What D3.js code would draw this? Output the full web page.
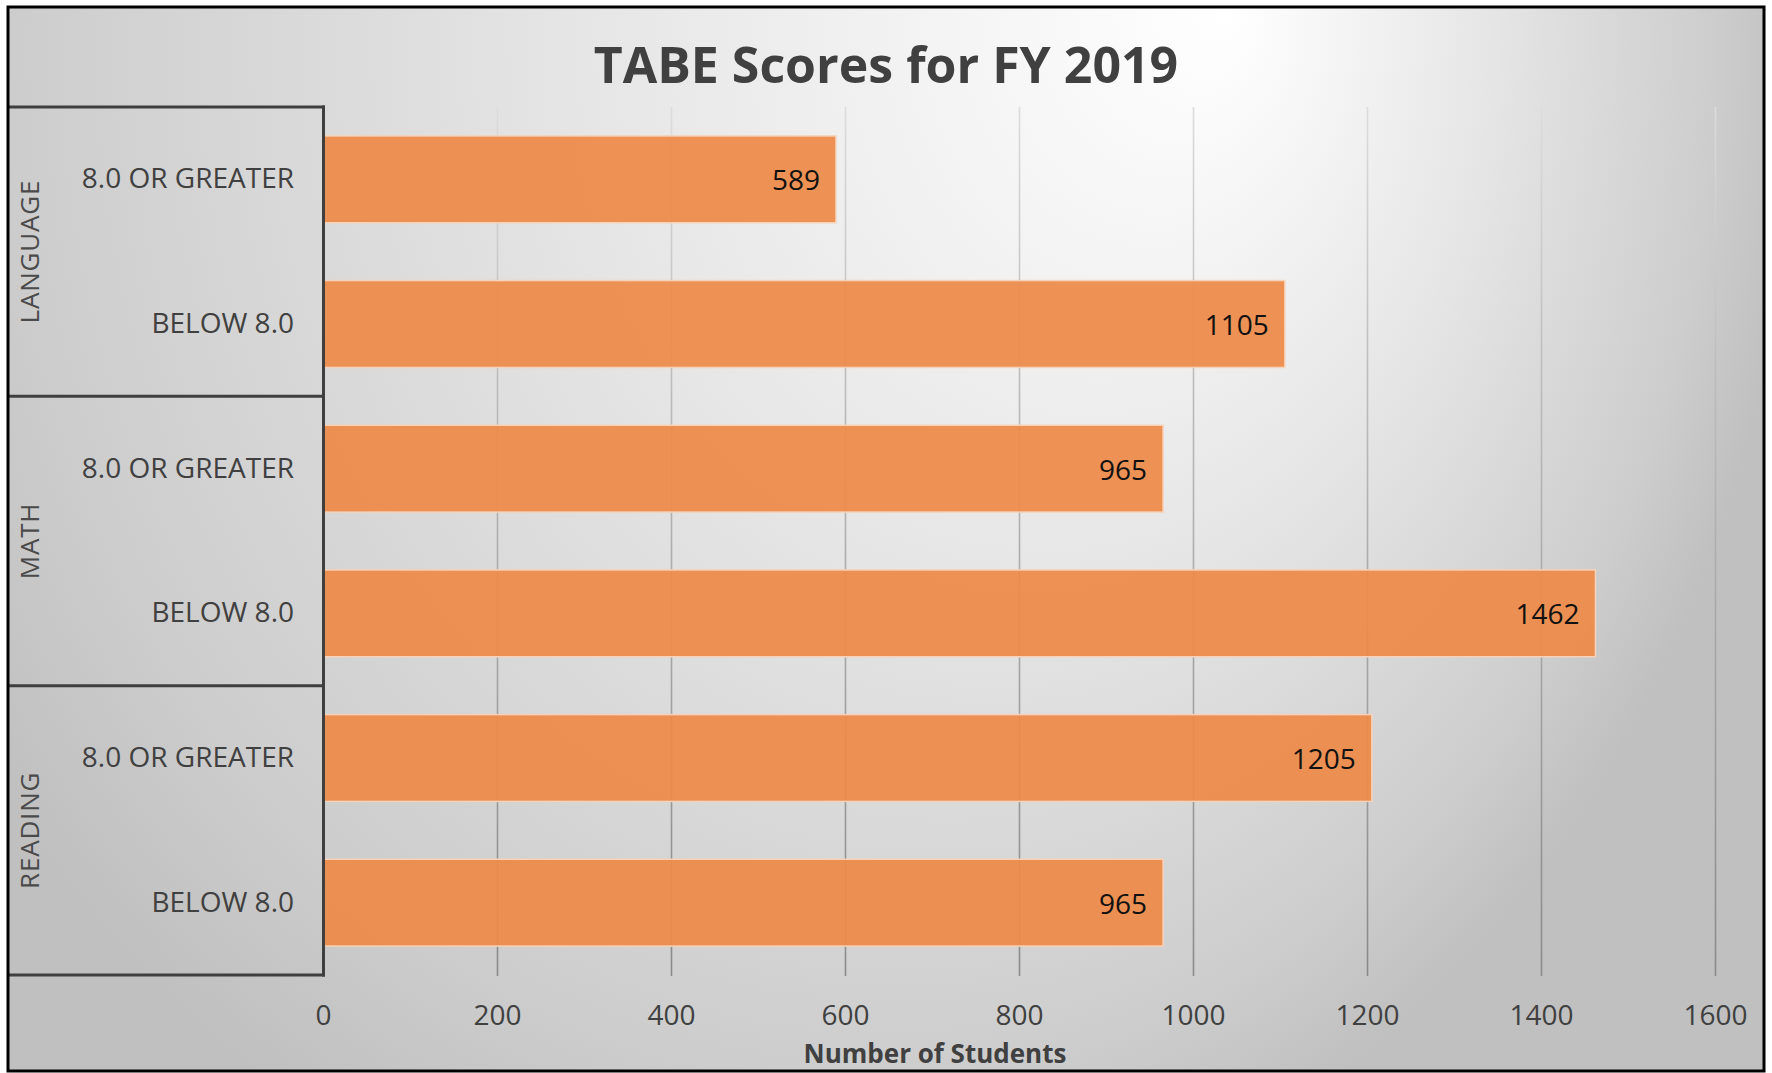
<!DOCTYPE html>
<html>
<head>
<meta charset="utf-8">
<style>
  body { margin: 0; background: #fff; }
  text { font-family: "Open Sans", sans-serif; }
</style>
</head>
<body>
<div id="chart"></div>
<script src="https://d3js.org/d3.v7.min.js"></script>
<script>
// data
var groups = ["LANGUAGE", "MATH", "READING"];
var levels = ["8.0 OR GREATER", "BELOW 8.0"];
var values = [589, 1105, 965, 1462, 1205, 965];
var xTicks = [0, 200, 400, 600, 800, 1000, 1200, 1400, 1600];

var rows = [];
groups.forEach(function(g, gi) {
  levels.forEach(function(l, li) {
    rows.push({ key: g + "|" + l, group: g, level: l, value: values[gi * levels.length + li] });
  });
});

var W = 1772, H = 1073;
var frame = { left: 8, top: 7, right: 1764, bottom: 1071 };
var plot = { left: 323.5, right: 1715.5, top: 107, bottom: 976 };

var svg = d3.select("#chart").append("svg")
    .attr("width", W)
    .attr("height", H);

var defs = svg.append("defs");

// light spot near the top right of centre, grey towards the edges
var bg = defs.append("radialGradient")
    .attr("id", "bg")
    .attr("gradientUnits", "userSpaceOnUse")
    .attr("cx", 800).attr("cy", 60).attr("r", 1000)
    .attr("fx", 1230).attr("fy", 20)
    .attr("gradientTransform", "translate(0,60) scale(1,1.2) translate(0,-60)");
bg.append("stop").attr("offset", 0).attr("stop-color", "#ffffff");
bg.append("stop").attr("offset", 0.45).attr("stop-color", "#e6e6e6");
bg.append("stop").attr("offset", 0.85).attr("stop-color", "#cdcdcd");
bg.append("stop").attr("offset", 1).attr("stop-color", "#c0c0c0");

var gridGrad = defs.append("linearGradient")
    .attr("id", "gridGrad")
    .attr("gradientUnits", "userSpaceOnUse")
    .attr("x1", 0).attr("y1", plot.top)
    .attr("x2", 0).attr("y2", plot.bottom);
gridGrad.append("stop").attr("offset", 0).attr("stop-color", "#dcdcdc");
gridGrad.append("stop").attr("offset", 0.3).attr("stop-color", "#bdbdbd");
gridGrad.append("stop").attr("offset", 1).attr("stop-color", "#8a8a8a");

svg.append("rect")
    .attr("x", frame.left).attr("y", frame.top)
    .attr("width", frame.right - frame.left)
    .attr("height", frame.bottom - frame.top)
    .attr("fill", "url(#bg)");

var x = d3.scaleLinear()
    .domain([0, 1600])
    .range([plot.left, plot.right]);

var y = d3.scaleBand()
    .domain(rows.map(function(d) { return d.key; }))
    .range([plot.top, plot.bottom - 1])
    .paddingInner(0.4)
    .paddingOuter(0.2);

var yGroup = d3.scaleBand()
    .domain(groups)
    .range([plot.top, plot.bottom - 1]);

// vertical gridlines
svg.append("g")
  .selectAll("line")
  .data(xTicks.slice(1))
  .enter().append("line")
    .attr("x1", function(d) { return x(d); })
    .attr("x2", function(d) { return x(d); })
    .attr("y1", plot.top)
    .attr("y2", plot.bottom)
    .attr("stroke", "url(#gridGrad)")
    .attr("stroke-width", 1.6);

// bars
svg.append("g")
  .selectAll("rect")
  .data(rows)
  .enter().append("rect")
    .attr("x", x(0))
    .attr("y", function(d) { return y(d.key); })
    .attr("width", function(d) { return x(d.value) - x(0); })
    .attr("height", y.bandwidth())
    .attr("fill", "#ed8a48")
    .attr("fill-opacity", 0.93)
    .attr("stroke", "#f7d2b8")
    .attr("stroke-width", 1.5);

// value labels
svg.append("g")
  .selectAll("text")
  .data(rows)
  .enter().append("text")
    .attr("x", function(d) { return x(d.value) - 16; })
    .attr("y", function(d) { return y(d.key) + y.bandwidth() / 2 + 11; })
    .attr("text-anchor", "end")
    .attr("font-size", 28)
    .attr("fill", "#111")
    .text(function(d) { return d.value; });

// category box
var box = svg.append("g")
    .attr("fill", "none")
    .attr("stroke", "#3f3f3f")
    .attr("stroke-width", 3);

box.selectAll("line.h")
  .data(groups.concat(["end"]))
  .enter().append("line")
    .attr("class", "h")
    .attr("x1", frame.left)
    .attr("x2", plot.left + 1.5)
    .attr("y1", function(d, i) { return i < groups.length ? yGroup(d) : plot.bottom - 1; })
    .attr("y2", function(d, i) { return i < groups.length ? yGroup(d) : plot.bottom - 1; });

box.append("line")
    .attr("x1", plot.left).attr("x2", plot.left)
    .attr("y1", plot.top - 1.5).attr("y2", plot.bottom + 0.5);

// sub category labels
svg.append("g")
  .selectAll("text")
  .data(rows)
  .enter().append("text")
    .attr("x", 294)
    .attr("y", function(d) { return y(d.key) + y.bandwidth() / 2 + 9; })
    .attr("text-anchor", "end")
    .attr("font-size", 28)
    .attr("fill", "#404040")
    .text(function(d) { return d.level; });

// group labels
svg.append("g")
  .selectAll("text")
  .data(groups)
  .enter().append("text")
    .attr("transform", function(d) {
      return "translate(39," + (yGroup(d) + yGroup.bandwidth() / 2) + ") rotate(-90)";
    })
    .attr("text-anchor", "middle")
    .attr("font-size", 26)
    .attr("letter-spacing", 0.8)
    .attr("fill", "#4a4a4a")
    .text(function(d) { return d; });

// x axis tick labels
svg.append("g")
  .selectAll("text")
  .data(xTicks)
  .enter().append("text")
    .attr("x", function(d) { return x(d); })
    .attr("y", 1025)
    .attr("text-anchor", "middle")
    .attr("font-size", 28)
    .attr("fill", "#404040")
    .text(function(d) { return d; });

// axis title
svg.append("text")
    .attr("x", 935)
    .attr("y", 1063)
    .attr("text-anchor", "middle")
    .attr("font-size", 26)
    .attr("font-weight", "bold")
    .attr("fill", "#404040")
    .text("Number of Students");

// chart title
svg.append("text")
    .attr("x", 886)
    .attr("y", 83)
    .attr("text-anchor", "middle")
    .attr("font-size", 50)
    .attr("font-weight", "bold")
    .attr("fill", "#404040")
    .text("TABE Scores for FY 2019");

// outer frame
svg.append("rect")
    .attr("x", frame.left).attr("y", frame.top)
    .attr("width", frame.right - frame.left)
    .attr("height", frame.bottom - frame.top)
    .attr("fill", "none")
    .attr("stroke", "#000")
    .attr("stroke-width", 3);
</script>
</body>
</html>
